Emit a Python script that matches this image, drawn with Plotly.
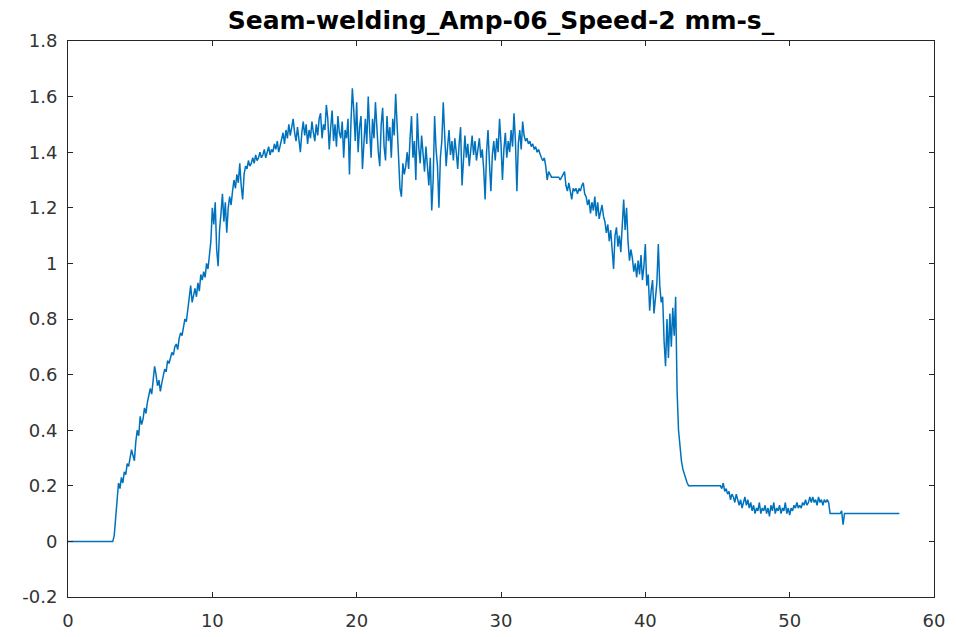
import numpy as np
import plotly.graph_objects as go

# ---- data ----
sample_step = 0.1

seg_idle_start = 0.0
seg_idle_values = [0.0] * 32  # 0.0 .. 3.1

seg_weld_start = 3.2
seg_weld_values = [
    0.02, 0.08, 0.15, 0.21, 0.19, 0.23, 0.21, 0.25, 0.24, 0.28,   # 3.2-4.1
    0.27, 0.30, 0.33, 0.31, 0.29, 0.36, 0.40, 0.38, 0.45, 0.42,   # 4.2-5.1
    0.44, 0.48, 0.46, 0.50, 0.52, 0.55, 0.53, 0.58, 0.63, 0.60,   # 5.2-6.1
    0.56, 0.58, 0.54, 0.57, 0.60, 0.62, 0.61, 0.65, 0.64, 0.66,   # 6.2-7.1
    0.68, 0.67, 0.70, 0.71, 0.69, 0.73, 0.75, 0.74, 0.78, 0.80,   # 7.2-8.1
    0.79, 0.84, 0.87, 0.92, 0.86, 0.89, 0.91, 0.88, 0.93, 0.90,   # 8.2-9.1
    0.96, 0.94, 0.97, 0.95, 1.00, 0.98, 1.02, 1.08, 1.20, 1.14,   # 9.2-10.1
    1.22, 1.05, 0.99, 1.12, 1.18, 1.25, 1.15, 1.22, 1.11, 1.20,   # 10.2-11.1
    1.24, 1.21, 1.26, 1.30, 1.27, 1.32, 1.29, 1.36, 1.28, 1.23,   # 11.2-12.1
    1.32, 1.35, 1.34, 1.37, 1.35, 1.36, 1.38, 1.36, 1.39, 1.37,   # 12.2-13.1
    1.38, 1.40, 1.38, 1.39, 1.41, 1.38, 1.40, 1.42, 1.39, 1.41,   # 13.2-14.1
    1.40, 1.43, 1.41, 1.44, 1.40, 1.42, 1.45, 1.47, 1.43, 1.48,   # 14.2-15.1
    1.45, 1.50, 1.46, 1.49, 1.52, 1.47, 1.44, 1.49, 1.45, 1.40,   # 15.2-16.1
    1.47, 1.51, 1.46, 1.50, 1.43, 1.48, 1.45, 1.51, 1.47, 1.44,   # 16.2-17.1
    1.50, 1.46, 1.52, 1.54, 1.45, 1.50, 1.48, 1.57, 1.52, 1.41,   # 17.2-18.1
    1.49, 1.55, 1.44, 1.50, 1.42, 1.53, 1.47, 1.45, 1.51, 1.38,   # 18.2-19.1
    1.48, 1.45, 1.52, 1.32, 1.50, 1.63, 1.55, 1.44, 1.58, 1.40,   # 19.2-20.1
    1.49, 1.53, 1.34, 1.45, 1.52, 1.43, 1.60, 1.48, 1.38, 1.52,   # 20.2-21.1
    1.45, 1.58, 1.47, 1.40, 1.35, 1.50, 1.56, 1.42, 1.37, 1.53,   # 21.2-22.1
    1.44, 1.49, 1.38, 1.52, 1.46, 1.61, 1.50, 1.38, 1.27, 1.24,   # 22.2-23.1
    1.36, 1.32, 1.35, 1.40, 1.34, 1.45, 1.53, 1.38, 1.44, 1.30,   # 23.2-24.1
    1.54, 1.42, 1.36, 1.46, 1.40, 1.33, 1.42, 1.35, 1.28, 1.38,   # 24.2-25.1
    1.19, 1.30, 1.53, 1.41, 1.35, 1.20, 1.38, 1.44, 1.58, 1.46,   # 25.2-26.1
    1.35, 1.42, 1.48, 1.39, 1.44, 1.37, 1.45, 1.40, 1.34, 1.43,   # 26.2-27.1
    1.49, 1.28, 1.40, 1.46, 1.38, 1.43, 1.35, 1.41, 1.46, 1.39,   # 27.2-28.1
    1.44, 1.37, 1.42, 1.45, 1.38, 1.41, 1.34, 1.23, 1.40, 1.48,   # 28.2-29.1
    1.36, 1.26, 1.39, 1.44, 1.37, 1.45, 1.40, 1.52, 1.43, 1.30,   # 29.2-30.1
    1.41, 1.47, 1.38, 1.44, 1.40, 1.48, 1.42, 1.54, 1.44, 1.26,   # 30.2-31.1
    1.43, 1.48, 1.41, 1.51, 1.46, 1.44, 1.45, 1.43, 1.44, 1.42,   # 31.2-32.1
    1.43, 1.41, 1.42, 1.40, 1.41, 1.39, 1.38, 1.37, 1.38, 1.35,   # 32.2-33.1
    1.30, 1.33, 1.32, 1.31, 1.31, 1.31, 1.31, 1.31, 1.31, 1.30,   # 33.2-34.1
    1.31, 1.32, 1.33, 1.28, 1.26, 1.29, 1.25, 1.23, 1.27, 1.26,   # 34.2-35.1
    1.27, 1.25, 1.27, 1.26, 1.28, 1.29, 1.25, 1.24, 1.21, 1.23,   # 35.2-36.1
    1.18, 1.22, 1.19, 1.24, 1.17, 1.22, 1.16, 1.18, 1.21, 1.17,   # 36.2-37.1
    1.15, 1.11, 1.14, 1.08, 1.12, 1.05, 0.98, 1.10, 1.13, 1.06,   # 37.2-38.1
    1.10, 1.04, 1.16, 1.23, 1.12, 1.20, 1.08, 1.01, 1.05, 1.02,   # 38.2-39.1
    0.97, 1.00, 0.95, 1.01, 0.96, 1.03, 0.94, 0.99, 1.07, 0.92,   # 39.2-40.1
    0.96, 0.83, 0.90, 0.94, 0.82, 0.88, 0.93, 1.07, 0.92, 0.86,   # 40.2-41.1
    0.88, 0.72, 0.63, 0.80, 0.66, 0.82, 0.70, 0.84, 0.74, 0.88,   # 41.2-42.1
    0.54, 0.40, 0.33, 0.29, 0.26, 0.24, 0.22, 0.21,               # 42.2-42.9
]

seg_hold_start = 43.0
seg_hold_values = [0.20] * 23  # 43.0 .. 45.2

seg_tail_start = 45.3
seg_tail_values = [
    0.19, 0.21, 0.18, 0.19, 0.17, 0.18, 0.15, 0.17, 0.16, 0.14,   # 45.3-46.2
    0.17, 0.15, 0.13, 0.15, 0.12, 0.14, 0.16, 0.13, 0.15, 0.12,   # 46.3-47.2
    0.14, 0.11, 0.13, 0.10, 0.12, 0.11, 0.14, 0.10, 0.12, 0.11,   # 47.3-48.2
    0.13, 0.10, 0.12, 0.09, 0.13, 0.11, 0.14, 0.10, 0.12, 0.11,   # 48.3-49.2
    0.13, 0.10, 0.12, 0.11, 0.14, 0.10, 0.12, 0.095, 0.12, 0.11,  # 49.3-50.2
    0.13, 0.12, 0.14, 0.12, 0.13, 0.12, 0.14, 0.13, 0.15, 0.13,   # 50.3-51.2
    0.14, 0.16, 0.14, 0.16, 0.14, 0.15, 0.13, 0.16, 0.14, 0.15,   # 51.3-52.2
    0.13, 0.15, 0.14, 0.15, 0.14,                                 # 52.3-52.7
]

seg_end_start = 52.8
seg_end_values = [0.10] * 8 + [0.11, 0.06] + [0.10] * 39  # 52.8 .. 57.6

segments = [
    (seg_idle_start, seg_idle_values),
    (seg_weld_start, seg_weld_values),
    (seg_hold_start, seg_hold_values),
    (seg_tail_start, seg_tail_values),
    (seg_end_start, seg_end_values),
]

x_tick_vals = [0, 10, 20, 30, 40, 50, 60]
x_tick_text = ["0", "10", "20", "30", "40", "50", "60"]
y_tick_vals = [-0.2, 0, 0.2, 0.4, 0.6, 0.8, 1.0, 1.2, 1.4, 1.6, 1.8]
y_tick_text = ["-0.2", "0", "0.2", "0.4", "0.6", "0.8", "1", "1.2", "1.4", "1.6", "1.8"]

title_text = "Seam-welding_Amp-06_Speed-2 mm-s_"

# ---- build series ----
time_s = []
amplitude = []
for start, vals in segments:
    for i, v in enumerate(vals):
        time_s.append(round(start + i * sample_step, 2))
        amplitude.append(v)

axis_color = "#262626"
font_family = "DejaVu Sans, Verdana, sans-serif"

fig = go.Figure()
fig.add_trace(go.Scatter(
    x=time_s, y=amplitude, mode="lines",
    line=dict(color="#0072BD", width=1.5),
    showlegend=False, hoverinfo="x+y",
))

axis_common = dict(
    showgrid=False, zeroline=False, automargin=False,
    showline=True, linecolor=axis_color, linewidth=1, mirror="ticks",
    ticks="inside", ticklen=5, tickwidth=1, tickcolor=axis_color,
    tickfont=dict(family=font_family, size=18, color="#333333"),
)

fig.update_layout(
    width=956, height=637,
    margin=dict(l=68, r=22, t=41, b=40, autoexpand=False),
    paper_bgcolor="white", plot_bgcolor="white",
    title=dict(
        text="<b>" + title_text + "</b>",
        x=0.5, xref="paper", xanchor="center",
        y=1 - 20 / 637, yref="container", yanchor="middle",
        font=dict(family=font_family, size=25, color="#000000"),
    ),
    xaxis=dict(range=[0, 60], tickvals=x_tick_vals, ticktext=x_tick_text,
               ticklabelstandoff=7, **axis_common),
    yaxis=dict(range=[-0.2, 1.8], tickvals=y_tick_vals, ticktext=y_tick_text,
               ticklabelstandoff=6, **axis_common),
)

# remove the page's default body margin so the figure fills the window exactly
fig.write_html(
    "out.html",
    config={"displayModeBar": False},
    post_script="document.body.style.margin='0';document.body.style.overflow='hidden';",
)
